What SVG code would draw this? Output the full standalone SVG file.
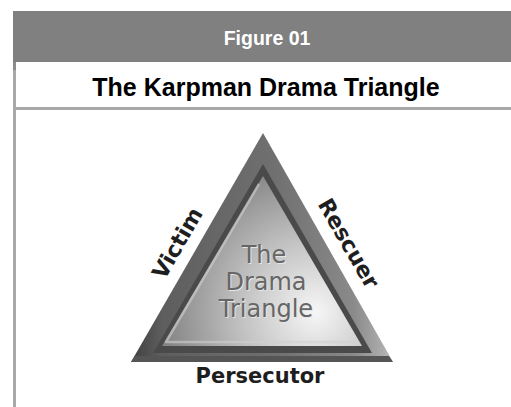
<svg xmlns="http://www.w3.org/2000/svg" width="511" height="407" viewBox="0 0 511 407">
  <style>
    .hdr { font-family: "Liberation Sans", Arial, sans-serif; font-weight: bold; text-anchor: middle; }
    .lbl { font-family: "DejaVu Sans", sans-serif; font-weight: bold; font-size: 21px; fill: #1e1e1e; text-anchor: middle; }
    .side { font-size: 22px; }
    .inner { font-family: "DejaVu Sans", sans-serif; font-size: 24px; text-anchor: middle; }
    .innerShadow { fill: #e6e6e6; }
    .innerMain { fill: #666666; }
  </style>
  <defs>
    <linearGradient id="outerGrad" x1="0" y1="0" x2="1" y2="0">
      <stop offset="0" stop-color="#404040"/>
      <stop offset="0.12" stop-color="#5e5e5e"/>
      <stop offset="0.55" stop-color="#707070"/>
      <stop offset="0.85" stop-color="#8a8a8a"/>
      <stop offset="1" stop-color="#b8b8b8"/>
    </linearGradient>
    <radialGradient id="innerGrad" gradientUnits="userSpaceOnUse" cx="315" cy="312" r="170">
      <stop offset="0" stop-color="#f6f6f6"/>
      <stop offset="0.45" stop-color="#c0c0c0"/>
      <stop offset="1" stop-color="#767676"/>
    </radialGradient>
  </defs>

  <rect width="511" height="407" fill="#ffffff"/>

  <g id="frame">
    <rect x="13" y="11" width="498" height="51" fill="#808080"/>
    <rect x="13" y="62" width="3" height="345" fill="#a8a8a8"/>
    <rect x="13" y="62" width="3" height="8" fill="#8c8c8c"/>
    <rect x="16" y="107" width="495" height="3" fill="#a8a8a8"/>
  </g>

  <g id="header">
    <text class="hdr" x="267" y="45" font-size="19.5" fill="#ffffff">Figure 01</text>
  </g>

  <g id="title">
    <text class="hdr" x="266" y="96" font-size="25" fill="#000000">The Karpman Drama Triangle</text>
  </g>

  <g id="triangle">
    <polygon points="263,133 131,362 393,362" fill="url(#outerGrad)"/>
    <polygon points="131,362 393,362 389,356 135,356" fill="#555555"/>
    <polygon points="263,164 153,353 372,353" fill="#4a4a4a"/>
    <polygon points="263,176 162,346 362,346" fill="url(#innerGrad)"/>
    <polyline points="259,184 166,342 356,342" fill="none" stroke="#d0d0d0" stroke-width="2.5" stroke-opacity="0.6" stroke-linejoin="round"/>
    <g>
      <text class="inner innerShadow" x="265" y="264">The</text>
      <text class="inner innerShadow" x="267" y="291">Drama</text>
      <text class="inner innerShadow" x="267" y="318">Triangle</text>
      <text class="inner innerMain" x="264" y="263">The</text>
      <text class="inner innerMain" x="266" y="290">Drama</text>
      <text class="inner innerMain" x="266" y="317">Triangle</text>
    </g>
  </g>

  <g id="victim">
    <text class="lbl side" transform="translate(184,247) rotate(-60)">Victim</text>
  </g>
  <g id="rescuer">
    <text class="lbl side" transform="translate(342,247) rotate(60)">Rescuer</text>
  </g>
  <g id="persecutor">
    <text class="lbl" x="260" y="383">Persecutor</text>
  </g>

  <g id="connectors"/>
</svg>
